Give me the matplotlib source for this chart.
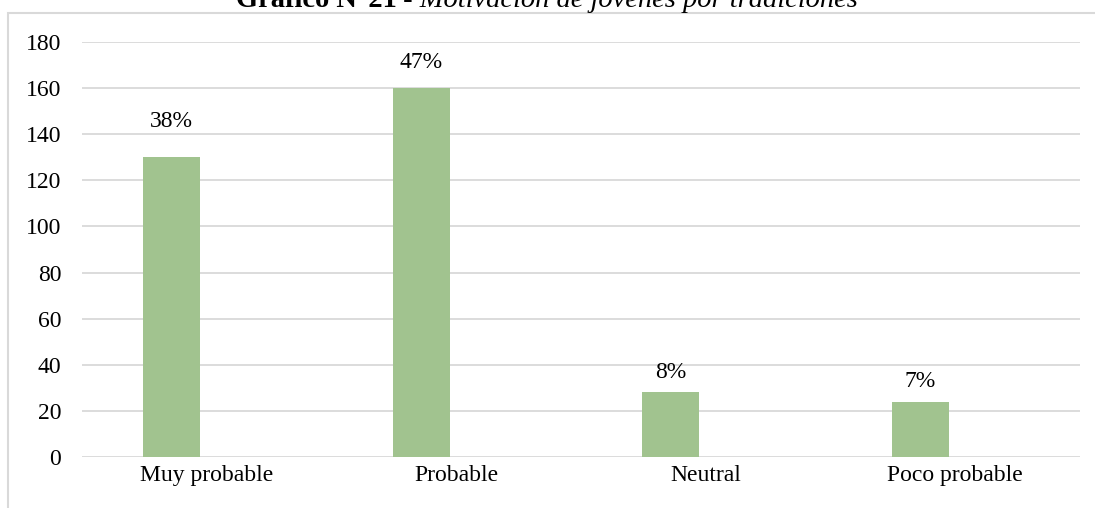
import matplotlib
matplotlib.use("Agg")
import matplotlib.pyplot as plt
from matplotlib.patches import Rectangle

categories = ["Muy probable", "Probable", "Neutral", "Poco probable"]
values = [130, 160, 28, 24]
pct_labels = ["38%", "47%", "8%", "7%"]
yticks = [0, 20, 40, 60, 80, 100, 120, 140, 160, 180]

# styling
bar_shift = -0.141          # bars sit left of category centre (Excel clustered layout)
label_offsets_pt = [18.5, 11, 6.5, 7.2]

plt.rcParams['font.family'] = ['Liberation Serif', 'DejaVu Serif']

W, H = 1095, 508
fig = plt.figure(figsize=(W/100, H/100), dpi=100)
ax = fig.add_axes([82/W, 1-457/H, (1080-82)/W, (457-42)/H])

x = list(range(len(categories)))
xb = [xi + bar_shift for xi in x]
ax.bar(xb, values, width=0.228, color='#A1C38F', zorder=3)
ax.set_xlim(-0.5, 3.5)
ax.set_ylim(0, 180)
ax.set_yticks(yticks)
ax.set_xticks(x)
ax.set_xticklabels(categories)
ax.yaxis.grid(True, color='#d9d9d9', linewidth=1.3, zorder=0)
for s in ax.spines.values():
    s.set_visible(False)
ax.tick_params(axis='both', length=0, labelsize=17, colors='black')
ax.tick_params(axis='y', pad=15)
ax.tick_params(axis='x', pad=6)

for xi, v, lab, off in zip(xb, values, pct_labels, label_offsets_pt):
    ax.annotate(lab, (xi, v), xytext=(0, off), textcoords='offset points',
                ha='center', va='bottom', fontsize=17)

# chart border (cropped)
fig.patches.append(Rectangle((8/W, -0.2), 1.2, 1 - 13/H + 0.2, transform=fig.transFigure,
                             fill=False, edgecolor='#d9d9d9', linewidth=1.5))

# title (cropped at top, as in the reference)
t1 = fig.text(0, 0, "Gráfico N°21", fontsize=20.5, fontweight='bold')
t2 = fig.text(0, 0, " - Motivación de jóvenes por tradiciones", fontsize=20.5, style='italic')
fig.canvas.draw()
r = fig.canvas.get_renderer()
w1 = t1.get_window_extent(r).width
w2 = t2.get_window_extent(r).width
start = 547 - (w1 + w2) / 2
base = 1 - 7/H
t1.set_position((start / W, base)); t1.set_va('baseline')
t2.set_position(((start + w1) / W, base)); t2.set_va('baseline')

fig.savefig("out.png", dpi=100)
